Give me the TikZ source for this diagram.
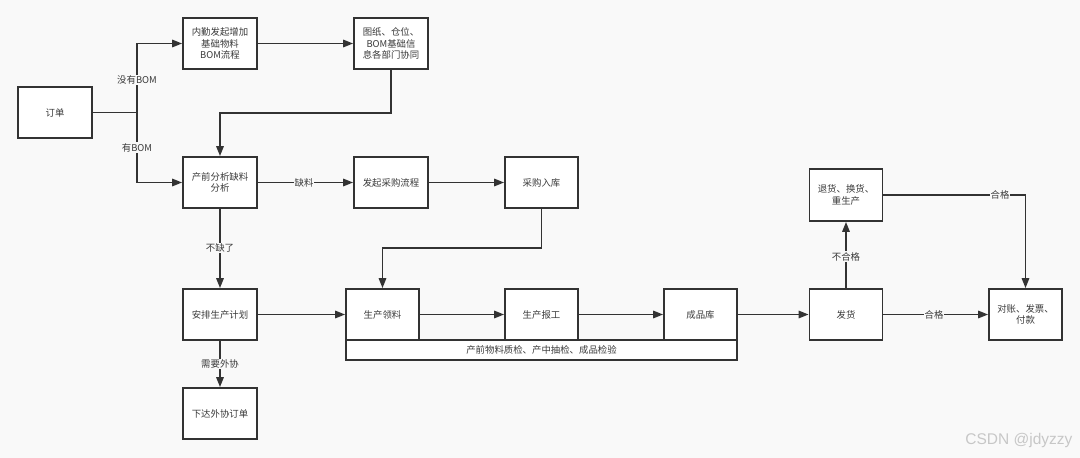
\documentclass[tikz,border=0pt]{standalone}
\usepackage{fontspec}
\setmainfont{Noto Sans CJK SC}
\newfontfamily\wmfont{Liberation Sans}
\usetikzlibrary{arrows.meta}
\definecolor{bgc}{HTML}{F9F9F9}
\definecolor{ln}{HTML}{333333}
\definecolor{txt}{HTML}{3A3A3A}
\tikzset{
  box/.style={draw=ln, line width=1.8pt, fill=white, minimum width=74pt, minimum height=51pt,
    inner sep=1pt, align=center, text=txt, font=\fontsize{9.4}{11.3}\selectfont},
  arr/.style={draw=ln, line width=1.6pt, -{Triangle[length=10pt,width=7.5pt]}},
  plain/.style={draw=ln, line width=1.6pt},
  lbl/.style={fill=bgc, inner sep=1pt, text=txt, font=\fontsize{9.4}{11.3}\selectfont}
}
\begin{document}
\begin{tikzpicture}[x=1pt,y=-1pt]
\fill[bgc] (0,0) rectangle (1080,458);
\useasboundingbox (0,0) rectangle (1080,458);
% nodes
\node[box] (order) at (55,112.5) {订单};
\node[box] (neiqin) at (220,43.5) {内勤发起增加\\基础物料\\BOM流程};
\node[box] (tuzhi) at (391,43.5) {图纸、仓位、\\BOM基础信\\息各部门协同};
\node[box] (chanqian) at (220,182.5) {产前分析缺料\\分析};
\node[box] (faqi) at (391,182.5) {发起采购流程};
\node[box, minimum width=73pt] (caigou) at (541.5,182.5) {采购入库};
\node[box] (anpai) at (220,314.5) {安排生产计划};
\node[box, minimum width=73pt] (lingliao) at (382.5,314.5) {生产领料};
\node[box, minimum width=73pt] (baogong) at (541.5,314.5) {生产报工};
\node[box, minimum width=73pt] (chengpin) at (700.5,314.5) {成品库};
\node[box, minimum width=391pt, minimum height=20pt] (bar) at (541.5,350) {产前物料质检、产中抽检、成品检验};
\node[box, minimum width=73pt] (fahuo) at (846,314.5) {发货};
\node[box, minimum width=73pt] (duizhang) at (1025.5,314.5) {对账、发票、\\付款};
\node[box, minimum width=73pt, minimum height=52pt] (tuihuo) at (846,195) {退货、换货、\\重生产};
\node[box] (waixie) at (220,413.5) {下达外协订单};
% connectors
\coordinate (br) at (137,112.5);
\draw[plain] (order.east) -- (br);
\draw[arr] (br) |- (neiqin.west);
\draw[arr] (br) |- (chanqian.west);
\node[lbl] (l1) at (137,80) {没有BOM};
\node[lbl] (l2) at (137,147.5) {有BOM};
\draw[arr] (neiqin.east) -- (tuzhi.west);
\coordinate (c1) at (391,113);
\draw[arr] (tuzhi.south) -- (c1) -| (chanqian.north);
\draw[arr] (chanqian.east) -- (faqi.west);
\node[lbl] (l3) at (304,182.5) {缺料};
\draw[arr] (faqi.east) -- (caigou.west);
\coordinate (c2) at (541.5,248);
\draw[arr] (caigou.south) -- (c2) -| (lingliao.north);
\draw[arr] (chanqian.south) -- (anpai.north);
\node[lbl] (l4) at (220,248) {不缺了};
\draw[arr] (anpai.east) -- (lingliao.west);
\draw[arr] (anpai.south) -- (waixie.north);
\node[lbl] (l5) at (220,364) {需要外协};
\draw[arr] (lingliao.east) -- (baogong.west);
\draw[arr] (baogong.east) -- (chengpin.west);
\draw[arr] (chengpin.east) -- (fahuo.west);
\draw[arr] (fahuo.north) -- (tuihuo.south);
\node[lbl] (l6) at (846,256.5) {不合格};
\draw[arr] (fahuo.east) -- (duizhang.west);
\node[lbl] (l7) at (934,314.5) {合格};
\draw[arr] (tuihuo.east) -| (duizhang.north);
\node[lbl] (l8) at (1000,195) {合格};
% watermark
\node[text=black!22, font=\wmfont\fontsize{15.5}{18}\selectfont, anchor=east] (wm) at (1076,440) {CSDN @jdyzzy};
\end{tikzpicture}
\end{document}
